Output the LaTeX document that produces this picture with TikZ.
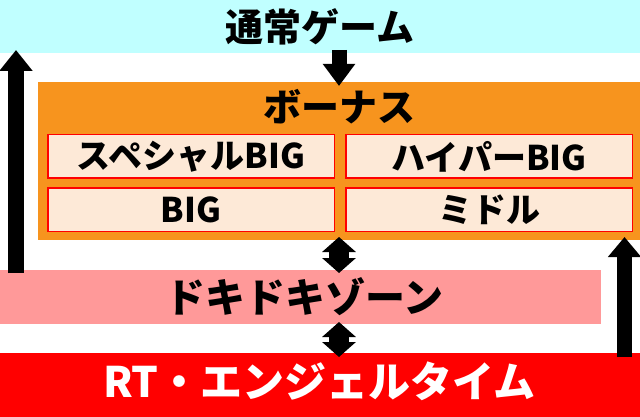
\documentclass[tikz,border=0pt]{standalone}
\usepackage{fontspec}
\usepackage{graphicx}
\newfontfamily\jp{Noto Sans CJK JP}
\usetikzlibrary{arrows.meta}
\definecolor{cyanbg}{RGB}{192,255,255}
\definecolor{orangebg}{RGB}{247,148,30}
\definecolor{peach}{RGB}{253,233,215}
\definecolor{pinkbg}{RGB}{255,153,153}
\definecolor{redbg}{RGB}{255,0,0}
\begin{document}
\begin{tikzpicture}[x=1pt,y=-1pt,
  band/.style={rectangle,draw=none,inner sep=0pt,outer sep=0pt},
  bigtitle/.style={inner sep=0pt,font=\jp\bfseries\fontsize{38}{38}\selectfont},
  subbox/.style={rectangle,draw=redbg,line width=1.5pt,fill=peach,minimum width=286.5pt,minimum height=43.5pt,inner sep=0pt,outer sep=0pt,font=\jp\bfseries\fontsize{34}{34}\selectfont},
  blockarrow/.style={draw=black,line width=#1},
  dblhead/.style={{Triangle[width=33pt,length=15pt]}-{Triangle[width=33pt,length=15pt]}},
]
\useasboundingbox (0,0) rectangle (640,417);
% bands
\node[band,fill=cyanbg,minimum width=640pt,minimum height=53pt] (top) at (320,26.5) {};
\node[bigtitle] (toplbl) at (320,26.5) {通常ゲーム};
\node[band,fill=orangebg,minimum width=602pt,minimum height=158pt] (bonus) at (339,161) {};
\node[bigtitle] (bonuslbl) at (339,106.5) {ボーナス};
\node[subbox] (sp) at (191,156.5) {スペシャルBIG};
\node[subbox] (hy) at (489,156.5) {ハイパーBIG};
\node[subbox] (bg) at (191,209.5) {BIG};
\node[subbox] (md) at (489,209.5) {ミドル};
\node[band,fill=pinkbg,minimum width=601pt,minimum height=54pt] (dk) at (300.5,297) {};
\node[bigtitle,font=\jp\bfseries\fontsize{40}{40}\selectfont] (dklbl) at (304,296.5) {ドキドキゾーン};
\node[band,fill=redbg,minimum width=640pt,minimum height=64pt] (rt) at (320,385) {};
\node[bigtitle,text=white,font=\jp\bfseries\fontsize{42}{42}\selectfont] (rtlbl) at (319.5,381) {RT・エンジェルタイム};
% arrows
\draw[blockarrow=15pt,-{Triangle[width=31pt,length=22pt]}]
  ([yshift=3pt]bonus.north |- top.south) -- ([yshift=-4pt]bonus.north);
\draw[blockarrow=20pt,dblhead]
  ([yshift=3pt]bonus.south) -- ([yshift=-3pt]bonus.south |- dk.north);
\draw[blockarrow=20pt,dblhead]
  ([yshift=2pt]bonus.south |- dk.south) -- ([yshift=-4pt]bonus.south |- rt.north);
\draw[blockarrow=16pt,-{Triangle[width=32pt,length=21pt]}]
  ([xshift=16pt,yshift=-3pt]dk.north west) -- ([xshift=16pt,yshift=3pt]top.south west);
\draw[blockarrow=15pt,-{Triangle[width=32pt,length=20pt]}]
  ([xshift=-15.5pt,yshift=-4pt]rt.north east) -- ([xshift=-15.5pt,yshift=3pt]bonus.south east);
\end{tikzpicture}
\end{document}
